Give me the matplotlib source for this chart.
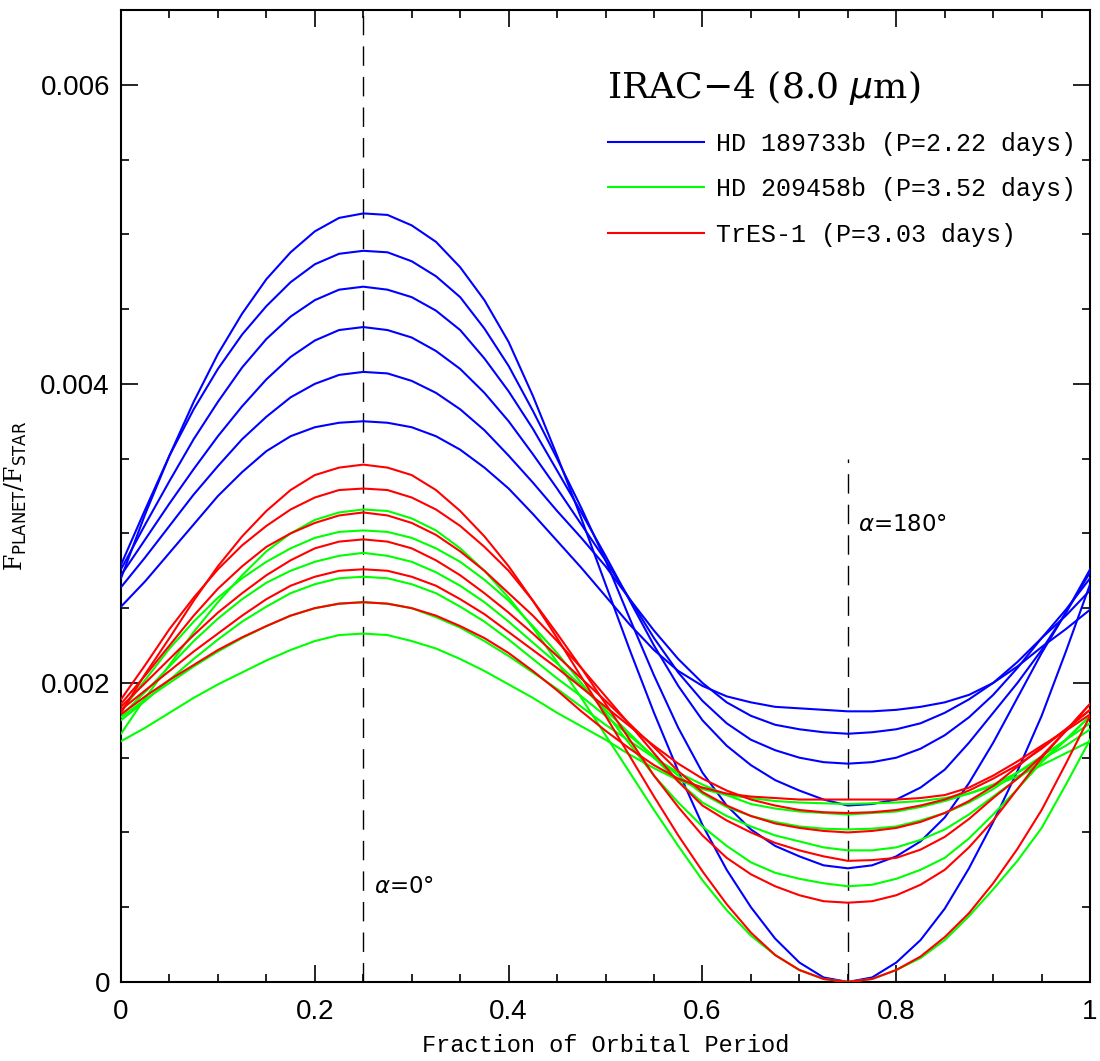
import matplotlib
matplotlib.use("Agg")
import matplotlib.pyplot as plt
from matplotlib.ticker import MultipleLocator, FuncFormatter
from matplotlib.lines import Line2D

# orbital phase (fraction of period), step 0.025
phase = [0.000, 0.025, 0.050, 0.075, 0.100, 0.125, 0.150, 0.175, 0.200, 0.225,
         0.250, 0.275, 0.300, 0.325, 0.350, 0.375, 0.400, 0.425, 0.450, 0.475,
         0.500, 0.525, 0.550, 0.575, 0.600, 0.625, 0.650, 0.675, 0.700, 0.725,
         0.750, 0.775, 0.800, 0.825, 0.850, 0.875, 0.900, 0.925, 0.950, 0.975,
         1.000]

# planet/star flux ratio in units of 1e-3, six curves per planet
hd189 = [
    [2.70, 3.13, 3.52, 3.88, 4.20, 4.47, 4.70, 4.88, 5.02, 5.11, 5.14, 5.13, 5.06, 4.95, 4.78, 4.56, 4.28, 3.92, 3.52, 3.10,
     2.66, 2.22, 1.80, 1.41, 1.05, 0.75, 0.50, 0.29, 0.13, 0.03, 0.00, 0.03, 0.13, 0.28, 0.49, 0.76, 1.07, 1.41, 1.78, 2.21, 2.66],
    [2.79, 3.16, 3.52, 3.83, 4.10, 4.33, 4.52, 4.68, 4.80, 4.87, 4.89, 4.88, 4.82, 4.72, 4.58, 4.37, 4.12, 3.82, 3.50, 3.17,
     2.82, 2.43, 2.05, 1.70, 1.40, 1.18, 1.02, 0.91, 0.84, 0.78, 0.76, 0.78, 0.84, 0.94, 1.10, 1.33, 1.60, 1.90, 2.20, 2.47, 2.76],
    [2.76, 3.06, 3.35, 3.63, 3.88, 4.11, 4.30, 4.45, 4.56, 4.63, 4.65, 4.63, 4.58, 4.49, 4.36, 4.17, 3.95, 3.70, 3.42, 3.14,
     2.85, 2.55, 2.25, 1.98, 1.75, 1.58, 1.45, 1.35, 1.28, 1.22, 1.18, 1.19, 1.22, 1.30, 1.42, 1.60, 1.80, 2.00, 2.22, 2.47, 2.74],
    [2.72, 2.96, 3.20, 3.43, 3.65, 3.85, 4.03, 4.18, 4.29, 4.36, 4.38, 4.36, 4.31, 4.22, 4.10, 3.94, 3.75, 3.53, 3.30, 3.06,
     2.82, 2.56, 2.30, 2.07, 1.88, 1.73, 1.62, 1.55, 1.50, 1.47, 1.46, 1.47, 1.50, 1.56, 1.65, 1.77, 1.92, 2.10, 2.30, 2.49, 2.70],
    [2.64, 2.84, 3.05, 3.26, 3.45, 3.63, 3.78, 3.91, 4.00, 4.06, 4.08, 4.07, 4.02, 3.94, 3.83, 3.69, 3.52, 3.34, 3.15, 2.97,
     2.78, 2.56, 2.35, 2.16, 2.00, 1.87, 1.78, 1.72, 1.69, 1.67, 1.66, 1.67, 1.69, 1.73, 1.80, 1.89, 2.00, 2.14, 2.30, 2.45, 2.62],
    [2.51, 2.68, 2.87, 3.06, 3.25, 3.41, 3.55, 3.65, 3.71, 3.74, 3.75, 3.74, 3.71, 3.65, 3.56, 3.44, 3.30, 3.13, 2.95, 2.77,
     2.58, 2.39, 2.22, 2.08, 1.98, 1.91, 1.87, 1.84, 1.83, 1.82, 1.81, 1.81, 1.82, 1.84, 1.87, 1.92, 2.00, 2.11, 2.24, 2.36, 2.49],
]

hd209 = [
    [1.66, 1.90, 2.12, 2.34, 2.54, 2.72, 2.88, 3.00, 3.09, 3.14, 3.16, 3.15, 3.10, 3.02, 2.90, 2.75, 2.57, 2.37, 2.14, 1.90,
     1.65, 1.40, 1.15, 0.91, 0.68, 0.48, 0.31, 0.18, 0.08, 0.02, 0.00, 0.02, 0.08, 0.16, 0.28, 0.44, 0.62, 0.81, 1.03, 1.32, 1.62],
    [1.81, 2.02, 2.23, 2.41, 2.57, 2.70, 2.81, 2.90, 2.97, 3.01, 3.02, 3.01, 2.97, 2.90, 2.81, 2.69, 2.55, 2.38, 2.20, 2.00,
     1.80, 1.59, 1.38, 1.20, 1.04, 0.91, 0.80, 0.73, 0.69, 0.66, 0.64, 0.65, 0.69, 0.75, 0.83, 0.96, 1.12, 1.29, 1.47, 1.62, 1.78],
    [1.78, 1.94, 2.11, 2.28, 2.43, 2.56, 2.67, 2.75, 2.81, 2.85, 2.87, 2.85, 2.81, 2.74, 2.65, 2.54, 2.41, 2.27, 2.13, 1.98,
     1.82, 1.66, 1.50, 1.34, 1.20, 1.11, 1.04, 0.98, 0.94, 0.90, 0.88, 0.88, 0.90, 0.95, 1.02, 1.12, 1.24, 1.36, 1.48, 1.62, 1.78],
    [1.75, 1.88, 2.02, 2.16, 2.29, 2.41, 2.51, 2.60, 2.66, 2.70, 2.71, 2.70, 2.66, 2.60, 2.51, 2.41, 2.29, 2.16, 2.03, 1.91,
     1.78, 1.645, 1.51, 1.38, 1.26, 1.17, 1.11, 1.07, 1.04, 1.025, 1.02, 1.025, 1.04, 1.08, 1.13, 1.20, 1.29, 1.40, 1.51, 1.62, 1.73],
    [1.77, 1.89, 2.00, 2.11, 2.21, 2.30, 2.38, 2.45, 2.50, 2.53, 2.54, 2.53, 2.50, 2.44, 2.37, 2.28, 2.18, 2.07, 1.96, 1.84,
     1.72, 1.61, 1.50, 1.40, 1.32, 1.25, 1.19, 1.16, 1.14, 1.13, 1.12, 1.13, 1.14, 1.17, 1.21, 1.26, 1.32, 1.40, 1.49, 1.58, 1.69],
    [1.61, 1.70, 1.80, 1.90, 1.99, 2.07, 2.15, 2.22, 2.28, 2.32, 2.33, 2.32, 2.28, 2.23, 2.16, 2.08, 1.99, 1.90, 1.80, 1.71,
     1.62, 1.52, 1.43, 1.35, 1.29, 1.25, 1.23, 1.21, 1.20, 1.195, 1.19, 1.195, 1.20, 1.21, 1.23, 1.26, 1.31, 1.375, 1.45, 1.53, 1.61],
]

tres1 = [
    [1.80, 2.06, 2.30, 2.55, 2.78, 2.98, 3.15, 3.29, 3.39, 3.44, 3.46, 3.44, 3.39, 3.29, 3.15, 2.98, 2.78, 2.55, 2.30, 2.04,
     1.78, 1.51, 1.24, 0.98, 0.74, 0.52, 0.33, 0.18, 0.08, 0.02, 0.00, 0.02, 0.08, 0.17, 0.30, 0.46, 0.66, 0.89, 1.15, 1.46, 1.78],
    [1.89, 2.12, 2.36, 2.57, 2.76, 2.92, 3.05, 3.16, 3.24, 3.29, 3.30, 3.29, 3.24, 3.16, 3.05, 2.91, 2.75, 2.55, 2.33, 2.10,
     1.86, 1.62, 1.38, 1.17, 0.98, 0.83, 0.72, 0.64, 0.58, 0.54, 0.53, 0.54, 0.58, 0.65, 0.75, 0.90, 1.08, 1.29, 1.50, 1.68, 1.86],
    [1.86, 2.05, 2.25, 2.45, 2.63, 2.78, 2.91, 3.00, 3.07, 3.12, 3.14, 3.12, 3.07, 2.99, 2.88, 2.75, 2.60, 2.45, 2.28, 2.10,
     1.91, 1.72, 1.53, 1.34, 1.18, 1.08, 1.00, 0.93, 0.88, 0.84, 0.81, 0.815, 0.83, 0.885, 0.97, 1.09, 1.23, 1.36, 1.51, 1.68, 1.86],
    [1.84, 2.00, 2.16, 2.32, 2.47, 2.60, 2.72, 2.82, 2.90, 2.945, 2.96, 2.945, 2.90, 2.82, 2.72, 2.60, 2.47, 2.33, 2.18, 2.03,
     1.88, 1.725, 1.57, 1.41, 1.27, 1.18, 1.11, 1.06, 1.03, 1.01, 1.00, 1.01, 1.03, 1.07, 1.13, 1.21, 1.31, 1.44, 1.57, 1.69, 1.82],
    [1.82, 1.95, 2.08, 2.21, 2.33, 2.45, 2.56, 2.65, 2.71, 2.75, 2.76, 2.75, 2.71, 2.65, 2.56, 2.46, 2.34, 2.22, 2.10, 1.97,
     1.84, 1.71, 1.58, 1.46, 1.36, 1.28, 1.22, 1.18, 1.15, 1.135, 1.13, 1.135, 1.15, 1.18, 1.22, 1.28, 1.36, 1.45, 1.56, 1.69, 1.82],
    [1.79, 1.91, 2.02, 2.12, 2.22, 2.305, 2.38, 2.45, 2.50, 2.53, 2.54, 2.53, 2.50, 2.45, 2.38, 2.30, 2.20, 2.08, 1.95, 1.81,
     1.68, 1.56, 1.45, 1.36, 1.30, 1.26, 1.24, 1.23, 1.22, 1.22, 1.22, 1.22, 1.22, 1.23, 1.25, 1.30, 1.38, 1.475, 1.58, 1.68, 1.79],
]

planets = ["HD 189733b (P=2.22 days)", "HD 209458b (P=3.52 days)", "TrES-1 (P=3.03 days)"]
colors = ["#0000ff", "#00ff00", "#ff0000"]

fig = plt.figure(figsize=(11, 10.61), dpi=100)
ax = fig.add_axes([0.110, 0.0745, 0.881, 0.916])

for curves, c in zip([hd189, hd209, tres1], colors):
    for vals in curves:
        ax.plot(phase, [v * 1e-3 for v in vals], color=c, lw=1.5, zorder=3)

# alpha = 0 and alpha = 180 markers
ax.axvline(0.25, color="black", lw=1.0, dashes=(14, 8), zorder=2)
ax.plot([0.75, 0.75], [0, 0.0035], color="black", lw=1.0, dashes=(14, 8), zorder=2)

ax.text(0.261, 0.00064, r"$\alpha$=0$\degree$", fontsize=16.5, family="DejaVu Sans", va="center")
ax.text(0.761, 0.00306, r"$\alpha$=180$\degree$", fontsize=16.5, family="DejaVu Sans", va="center")

ax.set_xlim(0, 1)
ax.set_ylim(0, 0.0065)
ax.xaxis.set_major_locator(MultipleLocator(0.2))
ax.xaxis.set_minor_locator(MultipleLocator(0.05))
ax.yaxis.set_major_locator(MultipleLocator(0.002))
ax.yaxis.set_minor_locator(MultipleLocator(0.0005))
ax.xaxis.set_major_formatter(FuncFormatter(lambda v, p: "%g" % round(v, 3)))
ax.yaxis.set_major_formatter(FuncFormatter(lambda v, p: "0" if v == 0 else "%.3f" % v))
ax.tick_params(which="both", direction="in", top=True, right=True, width=1.2)
ax.tick_params(which="major", length=12, labelsize=20)
ax.tick_params(axis="x", which="major", pad=12)
ax.tick_params(axis="y", which="major", pad=8)
ax.tick_params(which="minor", length=6)
for lab in ax.get_xticklabels() + ax.get_yticklabels():
    lab.set_family("Liberation Sans")
for s in ax.spines.values():
    s.set_linewidth(1.5)

ax.set_xlabel("Fraction of Orbital Period", family="Liberation Mono", fontsize=17, labelpad=7)
ax.set_ylabel(r"F$_{\mathrm{PLANET}}$/F$_{\mathrm{STAR}}$", family="DejaVu Serif", fontsize=17, labelpad=8)

ax.text(0.5015, 0.920, r"IRAC$-$4 (8.0 $\mu$m)", transform=ax.transAxes,
        family="DejaVu Serif", fontsize=26, va="center", ha="left")

handles = [Line2D([], [], color=c, lw=1.5) for c in colors]
ax.legend(handles, planets, loc="upper left", bbox_to_anchor=(0.479, 0.898),
          frameon=False, handlelength=3.85, handletextpad=0.48, labelspacing=0.86,
          prop={"family": "Liberation Mono", "size": 18})

fig.savefig("out.png", dpi=100)
